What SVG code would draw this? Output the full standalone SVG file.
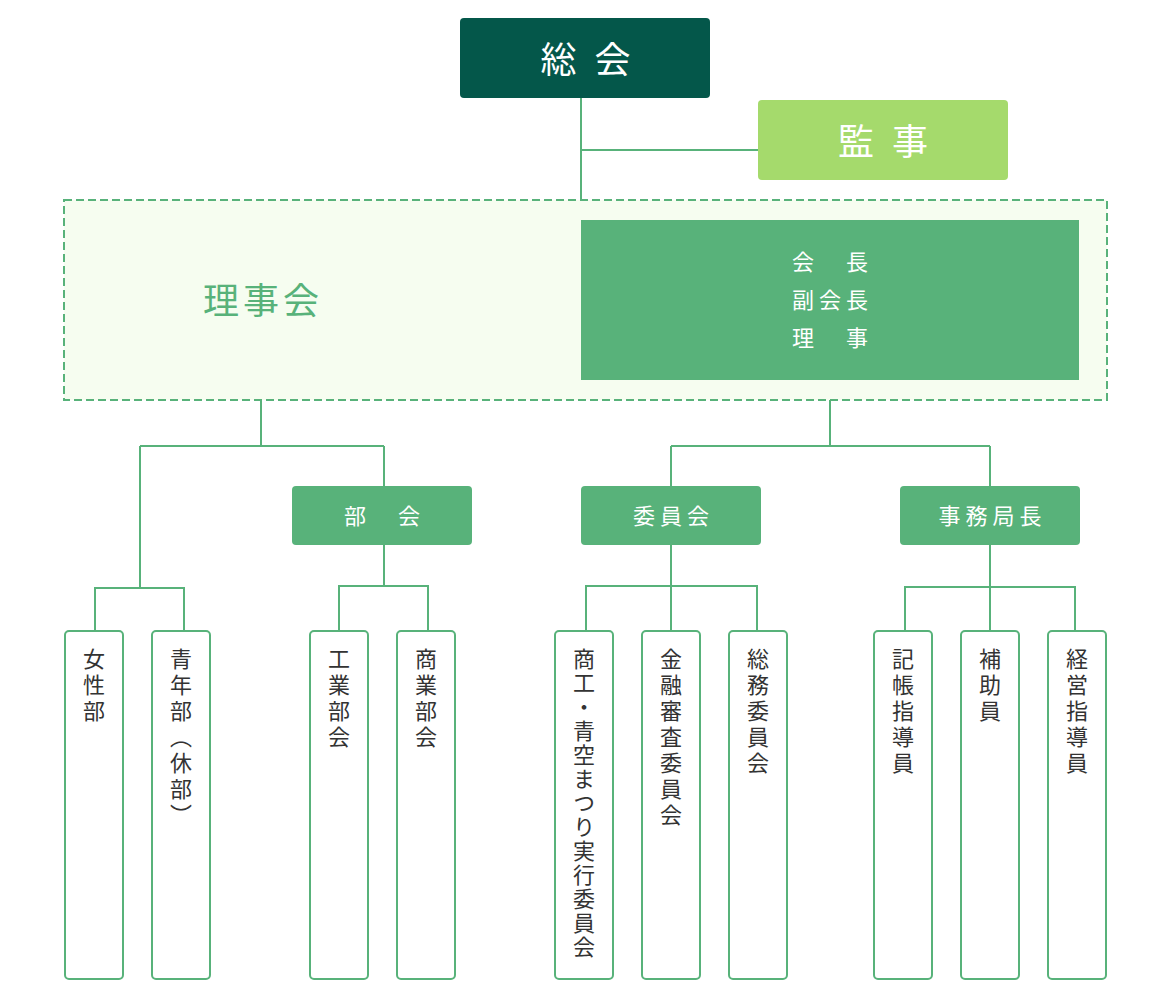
<svg xmlns="http://www.w3.org/2000/svg" width="1170" height="1000" viewBox="0 0 1170 1000">
<style>
text{font-family:"Noto Sans CJK JP","Noto Sans",sans-serif;}
.ln{fill:none;stroke:#58b27a;stroke-width:2;}
.w{fill:#ffffff;dominant-baseline:central;text-anchor:middle;}
.big{font-size:36px;letter-spacing:18px;}
.mid{font-size:22px;letter-spacing:5px;}
.gbox{fill:#58b27a;}
.leaf{fill:#ffffff;stroke:#58b27a;stroke-width:2;}
.vt{font-size:22px;letter-spacing:4px;fill:#333333;writing-mode:vertical-rl;}
</style>
<rect width="1170" height="1000" fill="#ffffff"/>
<g id="connectors">
<path class="ln" d="M581 98V200M581 150H758"/>
<path class="ln" d="M261 400V446M140 446H384M140 446V588M384 446V486"/>
<path class="ln" d="M95 631V588H184V631"/>
<path class="ln" d="M384 545V586M339 631V586H428V631"/>
<path class="ln" d="M830 380V446M671 446H990M671 446V486M990 446V486"/>
<path class="ln" d="M671 545V631M586 631V586H757V631"/>
<path class="ln" d="M990 545V631M905 631V587H1075V631"/>
</g>
<g id="soukai">
<rect x="460" y="18" width="250" height="80" rx="4" fill="#04574a"/>
<text class="w big" x="594.5" y="57">総会</text>
</g>
<g id="kanji">
<rect x="758" y="100" width="250" height="80" rx="4" fill="#a5da6c"/>
<text class="w big" x="892" y="139">監事</text>
</g>
<g id="rijikai">
<rect x="64" y="200" width="1043" height="200" fill="#f6fdf0" stroke="#58b27a" stroke-width="2" stroke-dasharray="8 4"/>
<text x="263" y="298" font-size="36" letter-spacing="4" fill="#58b27a" text-anchor="middle" dominant-baseline="central">理事会</text>
</g>
<g id="yakuin">
<rect class="gbox" x="581" y="220" width="498" height="160"/>
<text class="w mid" x="832.5" y="260">会　長</text>
<text class="w mid" x="832.5" y="298">副会長</text>
<text class="w mid" x="832.5" y="336">理　事</text>
</g>
<g id="bukai">
<rect class="gbox" x="292" y="486" width="180" height="59" rx="4"/>
<text class="w mid" x="384.5" y="514">部　会</text>
</g>
<g id="iinkai">
<rect class="gbox" x="581" y="486" width="180" height="59" rx="4"/>
<text class="w mid" x="673.5" y="514">委員会</text>
</g>
<g id="jimukyokucho">
<rect class="gbox" x="900" y="486" width="180" height="59" rx="4"/>
<text class="w mid" x="992.5" y="514">事務局長</text>
</g>
<g id="joseibu"><rect class="leaf" x="65" y="631" width="58" height="348" rx="4"/><text class="vt" x="94" y="648">女性部</text></g>
<g id="seinenbu"><rect class="leaf" x="152" y="631" width="58" height="348" rx="4"/><text class="vt" x="181" y="648">青年部（休部）</text></g>
<g id="kogyobukai"><rect class="leaf" x="310" y="631" width="58" height="348" rx="4"/><text class="vt" x="339" y="648">工業部会</text></g>
<g id="shogyobukai"><rect class="leaf" x="397" y="631" width="58" height="348" rx="4"/><text class="vt" x="426" y="648">商業部会</text></g>
<g id="matsuri"><rect class="leaf" x="555" y="631" width="58" height="348" rx="4"/><text class="vt" x="584" y="648" style="letter-spacing:2px">商工・青空まつり実行委員会</text></g>
<g id="kinyu"><rect class="leaf" x="642" y="631" width="58" height="348" rx="4"/><text class="vt" x="671" y="648">金融審査委員会</text></g>
<g id="somu"><rect class="leaf" x="729" y="631" width="58" height="348" rx="4"/><text class="vt" x="758" y="648">総務委員会</text></g>
<g id="kicho"><rect class="leaf" x="874" y="631" width="58" height="348" rx="4"/><text class="vt" x="903" y="648">記帳指導員</text></g>
<g id="hojoin"><rect class="leaf" x="961" y="631" width="58" height="348" rx="4"/><text class="vt" x="990" y="648">補助員</text></g>
<g id="keiei"><rect class="leaf" x="1048" y="631" width="58" height="348" rx="4"/><text class="vt" x="1077" y="648">経営指導員</text></g>
</svg>
